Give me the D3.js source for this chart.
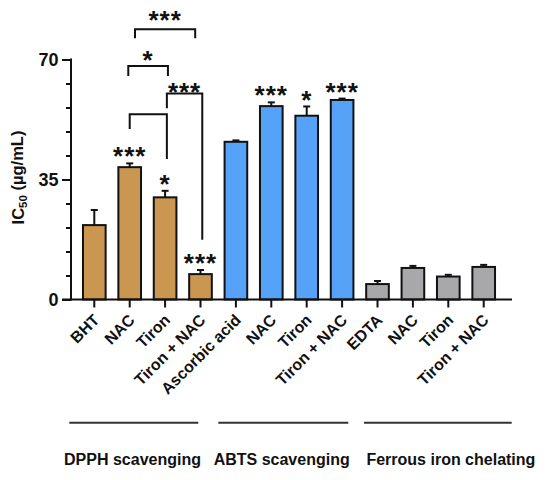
<!DOCTYPE html>
<html>
<head>
<meta charset="utf-8">
<script src="https://cdn.jsdelivr.net/npm/d3@7"></script>
<style>
  body { margin: 0; background: #fff; }
  svg { font-family: "Liberation Sans", Arial, sans-serif; font-weight: bold; }
</style>
</head>
<body>
<svg id="chart" width="550" height="480"></svg>
<script>
// ---- data ----
const labels = ["BHT", "NAC", "Tiron", "Tiron + NAC",
                "Ascorbic acid", "NAC", "Tiron", "Tiron + NAC",
                "EDTA", "NAC", "Tiron", "Tiron + NAC"];
const groupOf = [0, 0, 0, 0, 1, 1, 1, 1, 2, 2, 2, 2];
const values = [21.7, 38.6, 29.8, 7.4, 46.0, 56.4, 53.6, 58.2, 4.5, 9.2, 6.7, 9.5];
const errors = [4.4, 1.1, 1.9, 1.2, 0.4, 1.1, 2.7, 0.4, 0.9, 0.6, 0.5, 0.6];
const stars = ["", "***", "*", "***", "", "***", "*", "***", "", "", "", ""];
const groups = ["DPPH scavenging", "ABTS scavenging", "Ferrous iron chelating"];
const groupColors = ["#CA9650", "#55A2F8", "#A8A8AA"];
const yTicks = [0, 35, 70];
// brackets: x in category positions, y levels in IC50 units
const brackets = [
    { x1: 1.15, x2: 2.85, y: 78.8, y1: 76.2, y2: 76.2, label: "***", ly: 83.3 },
    { x1: 0.96, x2: 2.08, y: 68.1, y1: 65.2, y2: 65.2, label: "*", ly: 71.6 },
    { x1: 2.05, x2: 3.05, y: 60.1, y1: 55.8, y2: 17.4, label: "***", ly: 62.3 },
    { x1: 1.00, x2: 2.05, y: 54.0, y1: 49.7, y2: 41.0, label: "", ly: 0 }
];

const svg = d3.select("#chart");
const margin = { top: 59.5, bottom: 299.5, left: 71 };

const x = d3.scaleBand()
    .domain(d3.range(labels.length))
    .range([76.6, 501.4])
    .paddingInner(0.36)
    .paddingOuter(0.18);
const cx = i => x(i) + x.bandwidth() / 2;
const pos = p => cx(0) + p * x.step();

const y = d3.scaleLinear().domain([0, 70]).range([margin.bottom, margin.top]);

// ---- y axis ----
const yAxis = svg.append("g").attr("transform", `translate(${margin.left},0)`);
yAxis.call(d3.axisLeft(y).tickValues(d3.range(0, 71, 7)).tickSize(5).tickFormat(""));
yAxis.call(g => g.select(".domain").remove());
yAxis.selectAll("line").attr("stroke", "#111").attr("stroke-width", 2);
const yMajor = svg.append("g").attr("transform", `translate(${margin.left},0)`)
    .call(d3.axisLeft(y).tickValues(yTicks).tickSize(9).tickPadding(3.5));
yMajor.selectAll("line").attr("stroke", "#111").attr("stroke-width", 2);
yMajor.select(".domain").remove();
yMajor.selectAll("text")
    .style("font-size", "18px").style("font-weight", "bold")
    .attr("fill", "#111");
svg.append("line")
    .attr("x1", margin.left).attr("x2", margin.left)
    .attr("y1", margin.top - 1).attr("y2", margin.bottom + 1)
    .attr("stroke", "#111").attr("stroke-width", 2);

const yTitle = svg.append("text")
    .attr("transform", `translate(24,177.5) rotate(-90)`)
    .attr("text-anchor", "middle")
    .style("font-size", "16.5px")
    .attr("fill", "#111");
yTitle.append("tspan").text("IC");
yTitle.append("tspan").text("50").attr("dy", "0.3em").style("font-size", "11.5px");
yTitle.append("tspan").text(" (\u00b5g/mL)").attr("dy", "-0.3em");

// ---- bars ----
svg.append("g").selectAll("rect")
    .data(values)
    .join("rect")
    .attr("x", (d, i) => x(i))
    .attr("y", d => y(d))
    .attr("width", x.bandwidth())
    .attr("height", d => y(0) - y(d))
    .attr("fill", (d, i) => groupColors[groupOf[i]])
    .attr("stroke", "#111")
    .attr("stroke-width", 2);

// error bars (upper only)
const err = svg.append("g").attr("stroke", "#111").attr("stroke-width", 2);
err.selectAll("line.v")
    .data(values)
    .join("line")
    .attr("class", "v")
    .attr("x1", (d, i) => cx(i)).attr("x2", (d, i) => cx(i))
    .attr("y1", d => y(d)).attr("y2", (d, i) => y(d + errors[i]));
err.selectAll("line.cap")
    .data(values)
    .join("line")
    .attr("class", "cap")
    .attr("x1", (d, i) => cx(i) - 3.5).attr("x2", (d, i) => cx(i) + 3.5)
    .attr("y1", (d, i) => y(d + errors[i])).attr("y2", (d, i) => y(d + errors[i]));

// significance stars
svg.append("g").selectAll("text")
    .data(stars)
    .join("text")
    .attr("x", (d, i) => cx(i))
    .attr("y", (d, i) => y(values[i] + errors[i]) - 13)
    .attr("dy", "0.58em")
    .attr("text-anchor", "middle")
    .style("font-size", "26px")
    .style("letter-spacing", "1px")
    .attr("fill", "#111")
    .text(d => d);

// ---- x axis ----
const xAxis = svg.append("g").attr("transform", `translate(0,${margin.bottom})`)
    .call(d3.axisBottom(x).tickSize(8).tickFormat(""));
xAxis.select(".domain").remove();
xAxis.selectAll("line").attr("stroke", "#111").attr("stroke-width", 2);
svg.append("line")
    .attr("x1", 62).attr("x2", 512)
    .attr("y1", margin.bottom).attr("y2", margin.bottom)
    .attr("stroke", "#111").attr("stroke-width", 2);

svg.append("g").selectAll("text")
    .data(labels)
    .join("text")
    .attr("transform", (d, i) => `translate(${cx(i) + 6},321) rotate(-45)`)
    .attr("text-anchor", "end")
    .style("font-size", "16px")
    .attr("fill", "#111")
    .text(d => d);

// ---- brackets ----
const br = svg.append("g");
br.selectAll("path")
    .data(brackets)
    .join("path")
    .attr("d", b => `M${pos(b.x1)},${y(b.y1)}V${y(b.y)}H${pos(b.x2)}V${y(b.y2)}`)
    .attr("fill", "none")
    .attr("stroke", "#111")
    .attr("stroke-width", 2);
br.selectAll("text")
    .data(brackets)
    .join("text")
    .attr("x", b => (pos(b.x1) + pos(b.x2)) / 2)
    .attr("y", b => y(b.ly))
    .attr("dy", "0.58em")
    .attr("text-anchor", "middle")
    .style("font-size", "26px")
    .style("letter-spacing", "1px")
    .attr("fill", "#111")
    .text(b => b.label);

// ---- group lines & names ----
const groupSpan = groups.map((g, k) => {
    const idx = d3.range(labels.length).filter(i => groupOf[i] === k);
    return { name: g, first: d3.min(idx), last: d3.max(idx) };
});
const lineExt = [[69.3, 198.3], [218.3, 348.3], [364, 511.7]];
svg.append("g").selectAll("line")
    .data(groupSpan)
    .join("line")
    .attr("x1", (d, k) => lineExt[k][0])
    .attr("x2", (d, k) => lineExt[k][1])
    .attr("y1", 422.7).attr("y2", 422.7)
    .attr("stroke", "#333").attr("stroke-width", 2);
const textCx = [132.5, 281.7, 450.9];
svg.append("g").selectAll("text")
    .data(groupSpan)
    .join("text")
    .attr("x", (d, k) => textCx[k])
    .attr("y", 465)
    .attr("text-anchor", "middle")
    .style("font-size", "16px")
    .attr("fill", "#111")
    .text(d => d.name);
</script>
</body>
</html>
